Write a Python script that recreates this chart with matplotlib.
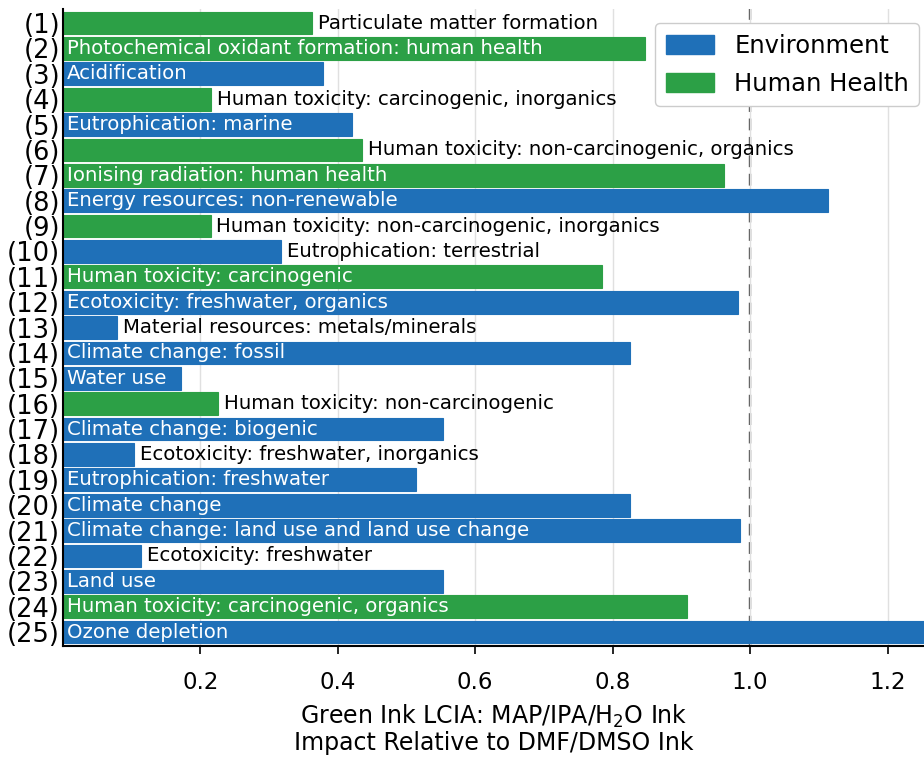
import matplotlib.pyplot as plt
from matplotlib.patches import Patch

# impact categories, top to bottom
categories = [
    "Particulate matter formation",
    "Photochemical oxidant formation: human health",
    "Acidification",
    "Human toxicity: carcinogenic, inorganics",
    "Eutrophication: marine",
    "Human toxicity: non-carcinogenic, organics",
    "Ionising radiation: human health",
    "Energy resources: non-renewable",
    "Human toxicity: non-carcinogenic, inorganics",
    "Eutrophication: terrestrial",
    "Human toxicity: carcinogenic",
    "Ecotoxicity: freshwater, organics",
    "Material resources: metals/minerals",
    "Climate change: fossil",
    "Water use",
    "Human toxicity: non-carcinogenic",
    "Climate change: biogenic",
    "Ecotoxicity: freshwater, inorganics",
    "Eutrophication: freshwater",
    "Climate change",
    "Climate change: land use and land use change",
    "Ecotoxicity: freshwater",
    "Land use",
    "Human toxicity: carcinogenic, organics",
    "Ozone depletion",
]
values = [0.363, 0.847, 0.379, 0.216, 0.421, 0.436, 0.962, 1.113, 0.215, 0.318,
          0.785, 0.982, 0.079, 0.825, 0.172, 0.226, 0.553, 0.104, 0.514, 0.825,
          0.986, 0.114, 0.553, 0.908, 1.35]
groups = ["H", "H", "E", "H", "E", "H", "H", "E", "H", "E",
          "H", "E", "E", "E", "E", "H", "E", "E", "E", "E",
          "E", "E", "E", "H", "E"]
tick_labels = ["(%d)" % (i + 1) for i in range(len(categories))]

colors = {"E": "#1f70b8", "H": "#2ca046"}

fig = plt.figure(figsize=(9.24, 7.57), dpi=100)
ax = fig.add_axes([0.068, 0.1466, 0.932, 0.8414])

ypos = list(range(len(categories)))
ax.barh(ypos, values, height=0.9, color=[colors[g] for g in groups],
        edgecolor=[colors[g] for g in groups], linewidth=0.8, zorder=2)

ax.set_xlim(0, 1.253)
ax.set_ylim(len(categories) - 0.45, -0.55)
ax.set_xticks([0.2, 0.4, 0.6, 0.8, 1.0, 1.2])
ax.set_xticklabels(["0.2", "0.4", "0.6", "0.8", "1.0", "1.2"], fontsize=16.5)
ax.set_yticks(ypos)
ax.set_yticklabels(tick_labels, fontsize=18.5)
ax.tick_params(axis="y", length=0, pad=2)
ax.tick_params(axis="x", length=6, width=1.2, pad=12)
ax.grid(axis="x", color="#e0e0e0", linewidth=1, zorder=0)
ax.axvline(1.0, color="#4a4a4a", linestyle=(0, (5, 2.8)), linewidth=1.7, zorder=1)
for s in ["top", "right"]:
    ax.spines[s].set_visible(False)
ax.spines["left"].set_linewidth(1.5)
ax.spines["bottom"].set_linewidth(1.5)

ax.set_xlabel("Green Ink LCIA: MAP/IPA/H$_2$O Ink\nImpact Relative to DMF/DMSO Ink",
              fontsize=17, labelpad=6, linespacing=1.1)

# label inside the bar when it fits, otherwise just past its end
fig.canvas.draw()
renderer = fig.canvas.get_renderer()
px_per_unit = ax.transData.transform((1, 0))[0] - ax.transData.transform((0, 0))[0]
for y, v, name in zip(ypos, values, categories):
    t = ax.text(0.006, y, name, va="center", ha="left", fontsize=14.2,
                color="white", zorder=3)
    w = t.get_window_extent(renderer).width / px_per_unit
    if w + 0.01 > v:
        t.set_x(v + 0.008)
        t.set_color("black")

handles = [Patch(facecolor=colors["E"], edgecolor=colors["E"], label="Environment"),
           Patch(facecolor=colors["H"], edgecolor=colors["H"], label="Human Health")]
ax.legend(handles=handles, loc="upper right", fontsize=17.5, handlelength=2.0,
          handleheight=0.8, borderaxespad=0.2, bbox_to_anchor=(1.0, 0.985),
          framealpha=1, labelspacing=0.58, handletextpad=0.82, borderpad=0.42)

fig.savefig("out.png", dpi=100)
